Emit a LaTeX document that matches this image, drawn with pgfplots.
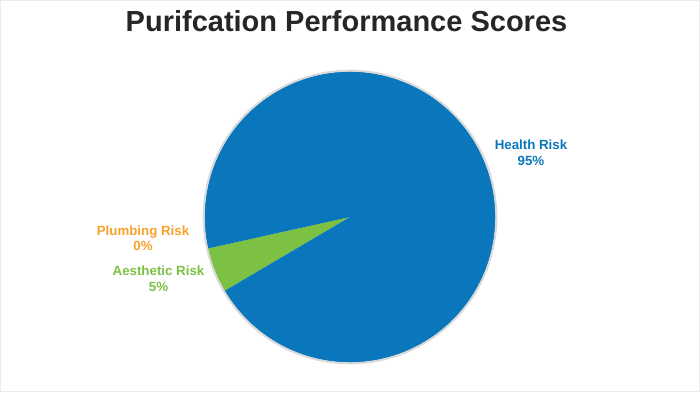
\documentclass[border=0pt]{standalone}
\usepackage{pgfplots}
\usepackage{pgfplotstable}
\pgfplotsset{compat=1.18}
\usepackage{fontspec}
\setmainfont{Liberation Sans}
\definecolor{health}{HTML}{0A76BC}
\definecolor{aes}{HTML}{7CC143}
\definecolor{plumb}{HTML}{F7A12B}
\definecolor{titlec}{HTML}{262626}
\definecolor{framec}{HTML}{EBEBEB}
\definecolor{rimc}{HTML}{D9D9D9}

\pgfplotstableread{
label value
Plumbing 0
Aesthetic 5
Health 95
}\piedata

\begin{document}
\begin{tikzpicture}
\begin{axis}[
  hide axis, scale only axis, width=700bp, height=392bp,
  xmin=0, xmax=700, ymin=0, ymax=392, clip=false]
\draw[framec, line width=1bp] (axis cs:0.5,0.5) rectangle (axis cs:699.5,391.5);
\pgfplotstablegetrowsof{\piedata}
\pgfmathtruncatemacro\N{\pgfplotsretval-1}
\xdef\cum{192.5}
\pgfplotsforeachungrouped \i in {0,...,\N}{%
  \pgfplotstablegetelem{\i}{value}\of\piedata
  \pgfmathsetmacro\a{\cum}%
  \pgfmathsetmacro\b{\cum+3.6*\pgfplotsretval}%
  \edef\temp{\noexpand\fill[\ifcase\i plumb\or aes\or health\fi] (axis cs:350,175) -- ++(\a:145.5bp) arc[start angle=\a, end angle=\b, radius=145.5bp] -- cycle;}%
  \temp
  \xdef\cum{\b}%
}
\draw[rimc, line width=2bp] (axis cs:350,175) circle[radius=146.3bp];
\node[anchor=base, text=titlec, font=\fontsize{29bp}{34bp}\selectfont\bfseries] at (axis cs:346.5,360) {Purifcation Performance Scores};
\node[anchor=base, text=health, font=\fontsize{13.3bp}{16bp}\selectfont\bfseries] at (axis cs:531,242) {Health Risk};
\node[anchor=base, text=health, font=\fontsize{13.3bp}{16bp}\selectfont\bfseries] at (axis cs:531,226) {95\%};
\node[anchor=base, text=plumb, font=\fontsize{13.3bp}{16bp}\selectfont\bfseries] at (axis cs:143,157) {Plumbing Risk};
\node[anchor=base, text=plumb, font=\fontsize{13.3bp}{16bp}\selectfont\bfseries] at (axis cs:143,141.5) {0\%};
\node[anchor=base, text=aes, font=\fontsize{13.3bp}{16bp}\selectfont\bfseries] at (axis cs:158.5,116.3) {Aesthetic Risk};
\node[anchor=base, text=aes, font=\fontsize{13.3bp}{16bp}\selectfont\bfseries] at (axis cs:158.5,100.3) {5\%};
\end{axis}
\end{tikzpicture}
\end{document}
